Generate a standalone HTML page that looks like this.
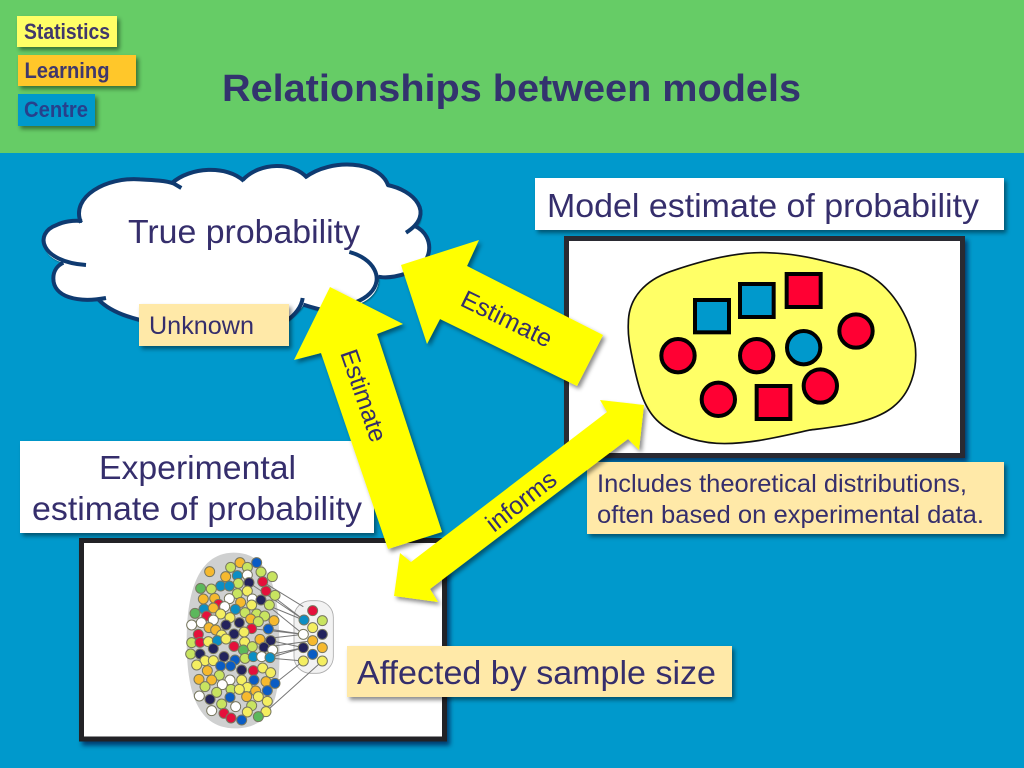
<!DOCTYPE html>
<html><head><meta charset="utf-8"><style>
html,body{margin:0;padding:0;background:#0099cc}
svg{display:block}
text{font-family:"Liberation Sans",sans-serif;fill:#352e6c}
.l{fill:#c8e460}.y{fill:#f4ee60}.o{fill:#f6b92e}.b{fill:#0a5cc4}.t{fill:#0c8ec4}.n{fill:#23235c}.r{fill:#e4103c}.g{fill:#5cb85c}.w{fill:#fff}
#dots circle{stroke:#77775f;stroke-width:3;r:15px}
</style></head><body>
<svg width="1024" height="768" viewBox="0 0 1024 768" xmlns="http://www.w3.org/2000/svg">
<defs>
<filter id="s" x="-10%" y="-10%" width="125%" height="125%"><feDropShadow dx="2.5" dy="3" stdDeviation="2" flood-color="#000" flood-opacity=".45"/></filter>
<filter id="s2" x="-10%" y="-10%" width="125%" height="125%"><feDropShadow dx="3" dy="4" stdDeviation="2.5" flood-color="#003" flood-opacity=".6"/></filter>
</defs>
<rect width="1024" height="768" fill="#0099cc"/>
<rect width="1024" height="153" fill="#66cc66"/>

<!-- logo -->
<g filter="url(#s)">
<rect x="17" y="16" width="100" height="31" fill="#ffff66"/>
<rect x="18" y="55" width="118" height="31" fill="#ffc72c"/>
<rect x="18" y="94" width="77" height="32" fill="#0099cc"/>
</g>
<text x="24" y="39" font-size="22" font-weight="bold" textLength="86" lengthAdjust="spacingAndGlyphs" style="fill:#40386c">Statistics</text>
<text x="24.500" y="78" font-size="22" font-weight="bold" textLength="85" lengthAdjust="spacingAndGlyphs" style="fill:#40386c">Learning</text>
<text x="24" y="117" font-size="22" font-weight="bold" textLength="64" lengthAdjust="spacingAndGlyphs" style="fill:#27408c">Centre</text>

<text x="222" y="101" font-size="38" font-weight="bold" textLength="579" lengthAdjust="spacingAndGlyphs" style="fill:#33336e">Relationships between models</text>

<!-- cloud -->
<g transform="translate(20,150) scale(.33333)">
<path filter="url(#s)" d="M180,215C150,140 260,80 360,88C400,90 440,92 460,100C510,50 620,45 670,90C720,35 820,35 860,80C930,25 1080,30 1105,105C1180,120 1230,190 1185,235C1250,260 1240,350 1160,370C1130,380 1100,385 1075,380C1080,420 1050,450 1020,460C960,490 900,490 850,465C835,490 810,505 800,515L350,510C300,495 260,475 235,448C170,450 100,440 100,385C100,360 115,345 130,338C60,320 50,250 110,225C130,215 160,210 180,215Z" fill="#fff"/>
<g fill="none" stroke="#0f3a70" stroke-width="12">
<path d="M183,218C150,140 260,80 360,88C400,90 440,92 460,100L484,114"/>
<path d="M455,100C510,50 620,45 672,93"/>
<path d="M668,90C720,35 820,35 862,84"/>
<path d="M856,82C930,25 1080,30 1105,108"/>
<path d="M1102,105C1180,120 1250,190 1158,248"/>
<path d="M1185,228C1250,260 1240,350 1160,370C1130,380 1100,385 1075,380"/>
<path d="M988,306C1060,325 1095,385 1050,430C1030,450 1010,455 1000,460"/>
<path d="M848,444C845,470 825,495 800,512"/>
<path d="M850,464C870,470 885,475 900,478"/>
<path d="M235,448C260,475 300,495 360,510"/>
<path d="M258,444C170,460 100,440 100,385C100,360 115,345 130,338"/>
<path d="M198,345C60,335 40,250 110,225C130,215 160,210 186,213"/>
</g>
</g>
<text x="128" y="243" font-size="33" textLength="232" lengthAdjust="spacingAndGlyphs">True probability</text>

<!-- model panel -->
<rect x="566.500" y="238.500" width="396" height="217" fill="#fff" stroke="#2a2a32" stroke-width="5" filter="url(#s2)"/>
<g transform="translate(560,230) scale(.33333)">
<path d="M205,280C205,200 260,150 330,125C430,90 530,65 620,68C720,70 800,95 880,115C980,145 1040,240 1065,340C1075,420 1050,490 1000,530C940,580 830,590 750,600C660,620 560,645 470,640C400,635 330,610 290,570C250,530 235,470 220,400C210,350 203,320 205,280Z" fill="#ffff66" stroke="#111" stroke-width="5"/>
<g stroke="#000" stroke-width="12">
<rect x="405" y="210" width="102" height="97" fill="#0099cc"/>
<rect x="540" y="162" width="101" height="99" fill="#0099cc"/>
<rect x="680" y="132" width="102" height="99" fill="#ff0033"/>
<rect x="590" y="468" width="101" height="99" fill="#ff0033"/>
<circle cx="354" cy="377" r="50" fill="#ff0033"/>
<circle cx="590" cy="377" r="50" fill="#ff0033"/>
<circle cx="731" cy="353" r="50" fill="#0099cc"/>
<circle cx="888" cy="303" r="50" fill="#ff0033"/>
<circle cx="475" cy="508" r="50" fill="#ff0033"/>
<circle cx="781" cy="468" r="50" fill="#ff0033"/>
</g>
</g>

<!-- experimental panel -->
<rect x="81.500" y="540.500" width="363" height="198.500" fill="#fff" stroke="#232328" stroke-width="5" filter="url(#s2)"/>

<!-- network -->
<g transform="translate(170,540) scale(.33333)">
<path d="M50,300C50,190 70,40 190,38C310,38 325,170 328,300C330,430 330,565 195,565C70,565 50,430 50,300Z" fill="#cfd0d0"/>
<rect x="372" y="182" width="118" height="218" rx="50" fill="#f2f2f2" stroke="#aaa" stroke-width="2.500"/>
<g stroke="#777" stroke-width="3" fill="none">
<path d="M278,125L400,200M237,128L402,240M288,153L402,240M247,177L400,240M273,180L400,283M295,267L400,283M245,266L400,283M302,302L400,323M275,350L400,323M300,353L400,323M270,298L400,283M282,322L428,302M315,430L400,363M288,515L457,363M250,350L400,363"/>
</g>
<g id="dots">
<circle cx="210" cy="68" r="14" class="o"/><circle cx="260" cy="68" r="14" class="b"/><circle cx="182" cy="82" r="14" class="l"/><circle cx="232" cy="82" r="14" class="l"/><circle cx="119" cy="95" r="14" class="o"/><circle cx="273" cy="96" r="14" class="l"/><circle cx="167" cy="110" r="14" class="o"/><circle cx="202" cy="107" r="14" class="t"/><circle cx="232" cy="105" r="14" class="w"/><circle cx="307" cy="110" r="14" class="l"/><circle cx="278" cy="125" r="14" class="r"/><circle cx="237" cy="128" r="14" class="n"/><circle cx="205" cy="130" r="14" class="l"/><circle cx="152" cy="138" r="14" class="t"/><circle cx="178" cy="138" r="14" class="t"/><circle cx="92" cy="145" r="14" class="g"/><circle cx="124" cy="147" r="14" class="l"/><circle cx="232" cy="153" r="14" class="y"/><circle cx="288" cy="153" r="14" class="r"/><circle cx="202" cy="161" r="14" class="l"/><circle cx="315" cy="166" r="14" class="l"/><circle cx="100" cy="177" r="14" class="o"/><circle cx="134" cy="175" r="14" class="o"/><circle cx="178" cy="176" r="14" class="w"/><circle cx="247" cy="177" r="14" class="w"/><circle cx="273" cy="180" r="14" class="n"/><circle cx="212" cy="187" r="14" class="o"/><circle cx="146" cy="193" r="14" class="r"/><circle cx="245" cy="195" r="14" class="y"/><circle cx="298" cy="195" r="14" class="l"/><circle cx="102" cy="207" r="14" class="t"/><circle cx="130" cy="204" r="14" class="o"/><circle cx="164" cy="200" r="14" class="w"/><circle cx="196" cy="208" r="14" class="t"/><circle cx="75" cy="220" r="14" class="g"/><circle cx="225" cy="218" r="14" class="l"/><circle cx="152" cy="222" r="14" class="y"/><circle cx="260" cy="222" r="14" class="l"/><circle cx="284" cy="228" r="14" class="l"/><circle cx="110" cy="228" r="14" class="r"/><circle cx="180" cy="233" r="14" class="y"/><circle cx="242" cy="237" r="14" class="o"/><circle cx="130" cy="240" r="14" class="w"/><circle cx="65" cy="255" r="14" class="w"/><circle cx="94" cy="248" r="14" class="w"/><circle cx="168" cy="255" r="14" class="n"/><circle cx="208" cy="248" r="14" class="n"/><circle cx="265" cy="245" r="14" class="l"/><circle cx="312" cy="242" r="14" class="o"/><circle cx="117" cy="263" r="14" class="o"/><circle cx="137" cy="270" r="14" class="o"/><circle cx="245" cy="266" r="14" class="r"/><circle cx="295" cy="267" r="14" class="b"/><circle cx="222" cy="276" r="14" class="y"/><circle cx="192" cy="282" r="14" class="n"/><circle cx="85" cy="283" r="14" class="r"/><circle cx="155" cy="285" r="14" class="y"/><circle cx="270" cy="298" r="14" class="o"/><circle cx="302" cy="302" r="14" class="n"/><circle cx="65" cy="308" r="14" class="l"/><circle cx="90" cy="307" r="14" class="r"/><circle cx="115" cy="305" r="14" class="y"/><circle cx="142" cy="302" r="14" class="t"/><circle cx="168" cy="297" r="14" class="y"/><circle cx="224" cy="306" r="14" class="y"/><circle cx="192" cy="319" r="14" class="r"/><circle cx="282" cy="322" r="14" class="n"/><circle cx="247" cy="320" r="14" class="l"/><circle cx="130" cy="326" r="14" class="n"/><circle cx="308" cy="330" r="14" class="w"/><circle cx="220" cy="330" r="14" class="g"/><circle cx="62" cy="342" r="14" class="l"/><circle cx="90" cy="342" r="14" class="n"/><circle cx="162" cy="350" r="14" class="n"/><circle cx="195" cy="360" r="14" class="b"/><circle cx="225" cy="355" r="14" class="l"/><circle cx="250" cy="350" r="14" class="t"/><circle cx="275" cy="350" r="14" class="w"/><circle cx="300" cy="353" r="14" class="t"/><circle cx="105" cy="362" r="14" class="y"/><circle cx="130" cy="362" r="14" class="y"/><circle cx="80" cy="375" r="14" class="y"/><circle cx="152" cy="378" r="14" class="b"/><circle cx="182" cy="378" r="14" class="b"/><circle cx="215" cy="390" r="14" class="n"/><circle cx="250" cy="392" r="14" class="r"/><circle cx="278" cy="384" r="14" class="y"/><circle cx="112" cy="392" r="14" class="o"/><circle cx="302" cy="398" r="14" class="y"/><circle cx="148" cy="406" r="14" class="l"/><circle cx="87" cy="418" r="14" class="o"/><circle cx="125" cy="420" r="14" class="o"/><circle cx="180" cy="420" r="14" class="w"/><circle cx="215" cy="420" r="14" class="y"/><circle cx="252" cy="420" r="14" class="b"/><circle cx="288" cy="425" r="14" class="o"/><circle cx="315" cy="430" r="14" class="b"/><circle cx="105" cy="440" r="14" class="l"/><circle cx="157" cy="434" r="14" class="w"/><circle cx="232" cy="442" r="14" class="y"/><circle cx="183" cy="448" r="14" class="l"/><circle cx="208" cy="448" r="14" class="y"/><circle cx="292" cy="452" r="14" class="b"/><circle cx="257" cy="453" r="14" class="o"/><circle cx="140" cy="457" r="14" class="l"/><circle cx="180" cy="472" r="14" class="b"/><circle cx="230" cy="470" r="14" class="o"/><circle cx="265" cy="470" r="14" class="y"/><circle cx="88" cy="468" r="14" class="w"/><circle cx="120" cy="478" r="14" class="n"/><circle cx="292" cy="484" r="14" class="y"/><circle cx="155" cy="492" r="14" class="l"/><circle cx="245" cy="497" r="14" class="l"/><circle cx="197" cy="500" r="14" class="w"/><circle cx="125" cy="512" r="14" class="w"/><circle cx="232" cy="516" r="14" class="y"/><circle cx="288" cy="515" r="14" class="y"/><circle cx="162" cy="520" r="14" class="r"/><circle cx="183" cy="534" r="14" class="r"/><circle cx="265" cy="530" r="14" class="g"/><circle cx="215" cy="540" r="14" class="b"/>
<circle cx="428" cy="212" r="14" class="r"/><circle cx="457" cy="242" r="14" class="l"/><circle cx="402" cy="240" r="14" class="t"/><circle cx="428" cy="263" r="14" class="y"/><circle cx="457" cy="283" r="14" class="n"/><circle cx="400" cy="283" r="14" class="w"/><circle cx="428" cy="302" r="14" class="o"/><circle cx="457" cy="323" r="14" class="o"/><circle cx="400" cy="323" r="14" class="n"/><circle cx="428" cy="343" r="14" class="b"/><circle cx="400" cy="363" r="14" class="y"/><circle cx="457" cy="363" r="14" class="y"/>
</g>
</g>

<!-- labels -->
<g filter="url(#s)">
<rect x="535" y="178" width="469" height="52" fill="#fff"/>
<rect x="20" y="441" width="354" height="92" fill="#fff"/>
<rect x="139" y="304" width="150" height="42" fill="#ffe9a8"/>
<rect x="587" y="462" width="417" height="72" fill="#ffe9a8"/>
<rect x="347" y="646" width="385" height="51" fill="#ffe9a8"/>
</g>
<text x="547" y="217" font-size="33" textLength="432" lengthAdjust="spacingAndGlyphs">Model estimate of probability</text>
<text x="99" y="479" font-size="33" textLength="197" lengthAdjust="spacingAndGlyphs">Experimental</text>
<text x="32" y="520" font-size="33" textLength="330" lengthAdjust="spacingAndGlyphs">estimate of probability</text>
<text x="149" y="334" font-size="25" textLength="105" lengthAdjust="spacingAndGlyphs">Unknown</text>
<text x="597" y="492" font-size="25" textLength="370" lengthAdjust="spacingAndGlyphs">Includes theoretical distributions,</text>
<text x="597" y="523" font-size="25" textLength="387" lengthAdjust="spacingAndGlyphs">often based on experimental data.</text>
<text x="357" y="684" font-size="33" textLength="359" lengthAdjust="spacingAndGlyphs">Affected by sample size</text>

<!-- arrows -->
<g fill="#ffff00" filter="url(#s)">
<polygon points="401,265 479,240 467,266 603,335 577,386 440,319 427,344"/>
<polygon points="330,287 403,324 377,334 442,532 388,549 321,353 294,360"/>
<polygon points="644,405 600,400 607,412 411,562 400,553 394,596 438,602 430,589 628,439 639,450"/>
</g>
<text transform="translate(459,305) rotate(26)" font-size="25" textLength="98" lengthAdjust="spacingAndGlyphs">Estimate</text>
<text transform="translate(340,353) rotate(71)" font-size="25" textLength="96" lengthAdjust="spacingAndGlyphs">Estimate</text>
<text transform="translate(494,533) rotate(-38)" font-size="25" textLength="82" lengthAdjust="spacingAndGlyphs">informs</text>
</svg>
</body></html>
